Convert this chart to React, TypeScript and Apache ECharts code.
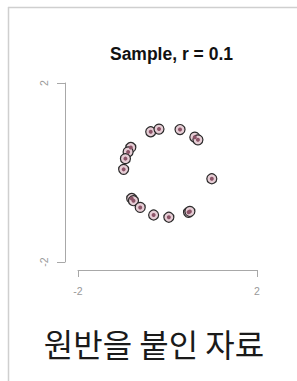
import React, { useEffect, useRef } from "react";
import * as echarts from "echarts";

const title = "Sample, r = 0.1";
const caption = "원반을 붙인 자료";
const xTicks = [-2, 2];
const yTicks = [-2, 2];
const xValues = [-0.375, -0.19, 0.28, 0.61, 0.68, -0.82, -0.88, -0.94, -0.98, 0.99, -0.8, -0.76, -0.61, -0.31, 0.03, 0.47, 0.5];
const yValues = [0.91, 0.97, 0.96, 0.79, 0.73, 0.56, 0.46, 0.31, 0.07, -0.14, -0.58, -0.63, -0.78, -0.95, -1.0, -0.89, -0.87];

export default function App() {
  const ref = useRef<HTMLDivElement>(null);
  useEffect(() => {
    if (!ref.current) return;
    const chart = echarts.init(ref.current, null, { renderer: "svg" });
    const pts = xValues.map((x, i) => [x, yValues[i]]);
    const axisGray = "#a8a8a8";
    chart.setOption({
      animation: false,
      backgroundColor: "#ffffff",
      title: {
        text: title,
        left: 166.5,
        textAlign: "center",
        top: 40,
        textStyle: { fontFamily: "Liberation Sans", fontWeight: "bold", fontSize: 17.5, color: "#111" },
      },
      grid: { left: 78, right: 40, top: 83, bottom: 119 },
      xAxis: {
        type: "value",
        min: xTicks[0],
        max: xTicks[1],
        interval: 4,
        offset: 8,
        splitLine: { show: false },
        axisLine: { onZero: false, lineStyle: { color: axisGray, width: 1 } },
        axisTick: { length: 7, lineStyle: { color: axisGray } },
        axisLabel: { margin: 15, color: "#999", fontSize: 10.5, fontFamily: "Liberation Sans", formatter: (v: number) => String(v) },
      },
      yAxis: {
        type: "value",
        min: yTicks[0],
        max: yTicks[1],
        interval: 4,
        offset: 13,
        splitLine: { show: false },
        axisLine: { onZero: false, lineStyle: { color: axisGray, width: 1 } },
        axisTick: { length: 8, lineStyle: { color: axisGray } },
        axisLabel: { margin: 16, rotate: 90, color: "#999", fontSize: 10.5, fontFamily: "Liberation Sans", formatter: (v: number) => String(v) },
      },
      graphic: [
        { type: "line", shape: { x1: 8, y1: 7.5, x2: 297, y2: 7.5 }, style: { stroke: "#cfcfcf", lineWidth: 1.5 } },
        { type: "line", shape: { x1: 8.5, y1: 7, x2: 8.5, y2: 381 }, style: { stroke: "#cfcfcf", lineWidth: 1.5 } },
        {
          type: "text",
          x: 154,
          y: 343,
          style: {
            text: caption,
            fontFamily: "Noto Sans CJK KR",
            fontSize: 32,
            fill: "#1a1a1a",
            textAlign: "center",
            textVerticalAlign: "middle",
          },
        },
      ],
      series: [
        {
          type: "scatter",
          data: pts,
          symbolSize: 10,
          itemStyle: { color: "#e6cdd5", borderColor: "#2a2a2a", borderWidth: 1.2, opacity: 1 },
          silent: true,
        },
        {
          type: "scatter",
          data: pts,
          symbolSize: 4,
          itemStyle: { color: "#8c5468", opacity: 1 },
          silent: true,
        },
      ],
    });
    return () => chart.dispose();
  }, []);
  return <div ref={ref} style={{ position: "fixed", left: 0, top: 0, width: 297, height: 381 }} />;
}
